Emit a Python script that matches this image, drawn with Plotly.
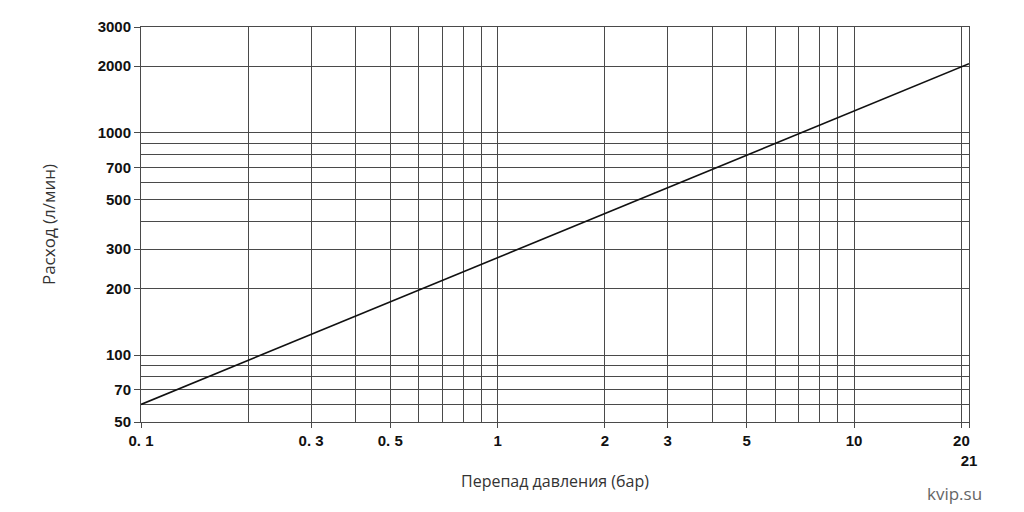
import math
import plotly.graph_objects as go

# Data
pressure_bar = [0.1, 21]
flow_lpm = [60, 2050]

x_tick_vals = [0.1, 0.3, 0.5, 1, 2, 3, 5, 10, 20, 21]
x_tick_text = ["0. 1", "0. 3", "0. 5", "1", "2", "3", "5", "10", "20", "<br>21"]
x_grid_vals = [0.1, 0.2, 0.3, 0.4, 0.5, 0.6, 0.7, 0.8, 0.9, 1, 2, 3, 4, 5, 6, 7, 8, 9, 10, 20, 21]

y_tick_vals = [50, 70, 100, 200, 300, 500, 700, 1000, 2000, 3000]
y_tick_text = ["50", "70", "100", "200", "300", "500", "700", "1000", "2000", "3000"]
y_grid_vals = [50, 60, 70, 80, 90, 100, 200, 300, 400, 500, 600, 700, 800, 900, 1000, 2000, 3000]

grid_col = "#4a4a4a"
tick_font = dict(family="Liberation Sans, Arial, sans-serif", size=15, color="#111111", weight="bold")
title_font_family = "Open Sans, Noto Sans, sans-serif"

fig = go.Figure()
fig.add_trace(go.Scatter(x=pressure_bar, y=flow_lpm, mode="lines",
                         line=dict(color="#111111", width=1.6), showlegend=False))

fig.update_layout(
    width=1024, height=512,
    margin=dict(l=133, r=63, t=19, b=98, autoexpand=False),
    paper_bgcolor="white", plot_bgcolor="white",
    xaxis=dict(
        type="log", range=[math.log10(0.1), math.log10(21)],
        tickmode="array", tickvals=x_tick_vals, ticktext=x_tick_text, tickangle=0,
        ticks="outside", ticklen=5, tickcolor=grid_col, tickwidth=1,
        showgrid=True, gridcolor=grid_col, gridwidth=1,
        minor=dict(tickmode="array", tickvals=x_grid_vals, showgrid=True,
                   gridcolor=grid_col, gridwidth=1, ticks=""),
        showline=True, linecolor=grid_col, linewidth=1, mirror=True,
        tickfont=tick_font, zeroline=False,
        title=dict(text="Перепад давления (бар)", standoff=8,
                   font=dict(family=title_font_family, size=16, color="#333333")),
    ),
    yaxis=dict(
        type="log", range=[math.log10(50), math.log10(3000)],
        tickmode="array", tickvals=y_tick_vals, ticktext=y_tick_text,
        ticks="outside", ticklen=6, tickcolor=grid_col, tickwidth=1,
        showgrid=True, gridcolor=grid_col, gridwidth=1,
        minor=dict(tickmode="array", tickvals=y_grid_vals, showgrid=True,
                   gridcolor=grid_col, gridwidth=1, ticks=""),
        showline=True, linecolor=grid_col, linewidth=1, mirror=True,
        tickfont=tick_font, zeroline=False,
        title=dict(text="Расход (л/мин)", standoff=37,
                   font=dict(family=title_font_family, size=17, color="#333333")),
    ),
    annotations=[dict(text="kvip.su", xref="paper", yref="paper", x=1.018, y=-0.18,
                      xanchor="right", yanchor="middle", showarrow=False,
                      font=dict(family=title_font_family, size=17, color="#666666"))],
)

fig.write_html("out.html")
